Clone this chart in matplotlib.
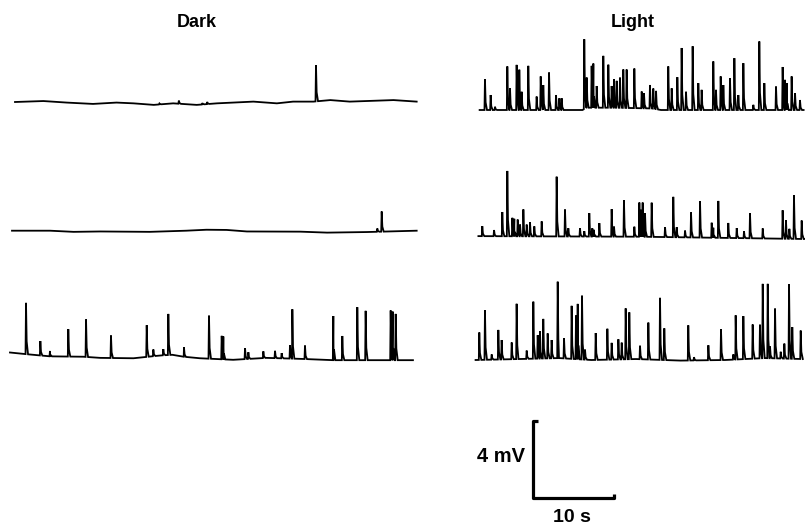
import matplotlib

matplotlib.use("Agg")
import matplotlib.pyplot as plt
import numpy as np

plt.rcParams["font.family"] = ["Liberation Sans", "DejaVu Sans"]

W_PX, H_PX = 805, 526
PX_PER_S = 8.1
PX_PER_MV = 19.2

# ---- Dark recordings (spike time [s], amplitude [mV]; baseline knots) ----
DARK1_BASE_T = [0.37, 3.87, 6.75, 10.0, 12.9, 15.0, 17.5, 19.9, 22.8, 25.3, 29.8,
                32.7, 34.7, 37.2, 39.3, 41.7, 47.1, 49.96]
DARK1_BASE_V = [0.0, 0.05, -0.03, -0.10, -0.03, -0.07, -0.15, -0.07, -0.15, -0.07, 0.02,
                -0.07, 0.02, 0.02, 0.10, 0.02, 0.10, 0.02]
DARK1_SPK_T = [18.2, 20.6, 23.5, 24.1, 37.53]
DARK1_SPK_A = [0.05, 0.16, 0.07, 0.11, 1.89]

DARK2_BASE_T = [0.0, 4.7, 7.6, 10.9, 17.0, 21.5, 24.0, 26.5, 29.0, 35.6, 38.9, 43.8, 49.96]
DARK2_BASE_V = [0.0, 0.0, -0.06, -0.04, -0.06, 0.0, 0.05, 0.04, -0.04, -0.05, -0.1, -0.07, 0.0]
DARK2_SPK_T = [45.1, 45.64]
DARK2_SPK_A = [0.17, 1.05]

DARK3_BASE_T = [-0.25, 1.6, 4.7, 8.8, 10.9, 15.0, 18.4, 19.8, 21.2, 23.2, 27.3, 31.4,
                35.6, 39.7, 49.5]
DARK3_BASE_V = [0.0, -0.08, -0.2, -0.22, -0.28, -0.3, -0.15, -0.12, -0.22, -0.3, -0.38,
                -0.28, -0.33, -0.4, -0.4]
DARK3_SPK_T = [1.73, 3.50, 4.69, 6.95, 9.14, 12.22, 16.63, 17.45, 18.68, 19.30,
               21.23, 24.32, 25.89, 26.09, 28.77, 29.18, 31.03, 32.47, 33.29, 34.32,
               34.61, 36.17, 39.67, 40.78, 42.63, 43.66, 46.75, 47.00, 47.37]
DARK3_SPK_A = [2.67, 0.75, 0.28, 1.43, 1.95, 1.17, 1.65, 0.35, 0.32, 2.14,
               0.49, 2.24, 1.22, 1.19, 0.57, 0.35, 0.35, 0.38, 0.27, 0.70,
               2.57, 0.70, 2.30, 1.26, 2.76, 2.57, 2.59, 2.53, 2.41]

# ---- Light recordings ----
LIGHT1_BASE_T = [0.2, 12.9, 13.4, 17.0, 21.5, 22.6, 40.2]
LIGHT1_BASE_V = [0.0, 0.0, 0.12, 0.12, 0.08, 0.0, 0.0]
LIGHT1_SPK_T = [0.86, 1.56, 2.10, 3.62, 3.95, 4.77, 5.10, 5.39, 6.21, 7.24,
                7.74, 8.06, 8.77, 9.63, 10.04, 10.33, 13.12, 13.42, 14.03, 14.24,
                14.65, 15.47, 16.09, 16.50, 16.79, 17.12, 17.53, 17.94, 18.35, 19.30,
                20.21, 20.49, 21.23, 21.64, 21.98, 23.49, 23.91, 24.61, 25.14, 25.68,
                26.50, 27.20, 27.61, 29.05, 29.38, 29.96, 30.29, 31.11, 31.65, 32.14,
                32.76, 33.99, 34.73, 35.35, 36.79, 37.61, 37.90, 38.11, 38.72, 39.14,
                39.75]
LIGHT1_SPK_A = [1.61, 0.78, 0.17, 2.27, 1.13, 2.35, 2.10, 0.95, 2.30, 0.70,
                1.75, 1.30, 1.95, 0.78, 0.61, 0.61, 3.63, 1.57, 2.18, 2.30,
                1.13, 2.70, 2.24, 1.13, 1.48, 1.40, 1.57, 2.00, 2.00, 2.06,
                0.87, 0.78, 1.22, 1.05, 0.95, 2.27, 1.13, 1.71, 3.23, 0.95,
                3.32, 1.40, 1.05, 2.53, 1.05, 1.75, 1.30, 1.65, 2.70, 0.78,
                2.44, 0.27, 3.57, 1.40, 1.22, 2.24, 1.57, 1.40, 1.75, 0.87,
                0.52]

LIGHT2_BASE_T = [0.05, 20.0, 40.3]
LIGHT2_BASE_V = [0.03, 0.0, -0.12]
LIGHT2_SPK_T = [0.53, 1.98, 3.00, 3.62, 4.24, 4.48, 4.90, 5.19, 5.60, 6.01,
                6.42, 6.95, 7.86, 9.71, 10.74, 11.15, 12.59, 13.12, 13.74, 14.11,
                14.32, 14.98, 16.50, 16.79, 18.02, 19.30, 19.92, 20.12, 20.33, 20.62,
                21.44, 23.09, 24.11, 24.53, 25.56, 26.30, 27.41, 28.85, 29.05, 29.67,
                30.90, 31.94, 32.84, 33.58, 35.15, 37.61, 38.02, 38.44, 39.01, 39.96]
LIGHT2_SPK_A = [0.52, 0.32, 1.26, 3.40, 0.96, 0.91, 0.87, 0.61, 1.40, 0.61,
                0.73, 0.52, 0.78, 3.11, 1.40, 0.43, 0.43, 0.28, 1.22, 0.43,
                0.35, 0.70, 1.43, 0.52, 1.89, 0.52, 1.78, 1.40, 1.78, 1.22,
                1.78, 0.52, 2.10, 0.52, 0.35, 1.30, 1.89, 0.78, 0.52, 1.92,
                0.78, 0.52, 0.35, 1.30, 0.52, 1.48, 0.96, 0.52, 2.27, 0.96]

LIGHT3_BASE_T = [-0.3, 5.0, 10.0, 14.0, 19.5, 25.0, 30.5, 35.4, 40.1]
LIGHT3_BASE_V = [0.0, 0.05, 0.1, 0.0, 0.05, -0.03, 0.0, 0.1, 0.05]
LIGHT3_SPK_T = [0.16, 0.86, 1.69, 2.51, 2.92, 4.16, 4.77, 6.01, 6.83, 7.37,
                7.65, 8.06, 8.60, 9.09, 9.84, 10.62, 11.56, 12.10, 12.31, 12.84,
                13.21, 14.53, 15.97, 16.50, 17.33, 17.74, 18.23, 18.68, 20.00, 21.03,
                22.47, 23.00, 25.96, 26.67, 28.44, 30.00, 31.52, 31.81, 32.76, 33.91,
                34.81, 35.15, 35.77, 36.05, 36.67, 37.37, 37.82, 38.40, 38.80, 39.84]
LIGHT3_SPK_A = [1.43, 2.59, 0.27, 1.54, 1.01, 0.87, 2.88, 0.43, 2.97, 1.22,
                1.43, 2.06, 1.30, 0.95, 3.98, 1.05, 2.76, 2.27, 2.88, 3.32,
                0.52, 1.40, 1.61, 0.87, 1.05, 0.87, 2.65, 2.44, 0.70, 1.92,
                3.23, 1.65, 1.83, 0.17, 0.78, 1.61, 0.27, 2.30, 2.24, 1.78,
                1.75, 3.87, 3.87, 0.61, 2.59, 0.35, 0.78, 3.87, 1.65, 1.48]

# (base_t, base_v, spike_t, spike_a, x origin px, baseline y px, t max)
TRACES = [
    (DARK1_BASE_T, DARK1_BASE_V, DARK1_SPK_T, DARK1_SPK_A, 12, 102.0, 50.5),
    (DARK2_BASE_T, DARK2_BASE_V, DARK2_SPK_T, DARK2_SPK_A, 12, 230.7, 50.5),
    (DARK3_BASE_T, DARK3_BASE_V, DARK3_SPK_T, DARK3_SPK_A, 12, 352.5, 50.5),
    (LIGHT1_BASE_T, LIGHT1_BASE_V, LIGHT1_SPK_T, LIGHT1_SPK_A, 478, 110.0, 40.6),
    (LIGHT2_BASE_T, LIGHT2_BASE_V, LIGHT2_SPK_T, LIGHT2_SPK_A, 478, 236.7, 40.6),
    (LIGHT3_BASE_T, LIGHT3_BASE_V, LIGHT3_SPK_T, LIGHT3_SPK_A, 478, 360.0, 40.6),
]

SCALE_MV = 4
SCALE_S = 10
T_MIN, V_MIN, V_MAX = -0.6, -0.7, 4.2
# spike outline: fast rise, short decay tail (offsets in s, fraction of peak)
SPIKE_SHAPE = [(-0.06, 0.0), (0.0, 1.0), (0.08, 0.25), (0.25, 0.0)]


def add_px_axes(fig, x0, yb, t_min, t_max, v_min, v_max):
    """Axes whose data origin lands on pixel (x0, yb), at the record's scale."""

    left = x0 + t_min * PX_PER_S
    width = (t_max - t_min) * PX_PER_S
    bottom = yb - v_min * PX_PER_MV
    height = (v_max - v_min) * PX_PER_MV
    ax = fig.add_axes([left / W_PX, 1 - bottom / H_PX, width / W_PX, height / H_PX])
    ax.set_xlim(t_min, t_max)
    ax.set_ylim(v_min, v_max)
    ax.set_axis_off()
    return ax


def trace_xy(base_t, base_v, spk_t, spk_a):
    base_t = np.asarray(base_t, float)
    base_v = np.asarray(base_v, float)
    spk_t = np.asarray(spk_t, float)
    spk_a = np.asarray(spk_a, float)
    ts, vs = [base_t], [base_v]
    for dt, frac in SPIKE_SHAPE:
        ts.append(spk_t + dt)
        vs.append(np.interp(spk_t + dt, base_t, base_v) + frac * spk_a)
    t = np.concatenate(ts)
    v = np.concatenate(vs)
    order = np.argsort(t, kind="stable")
    return t[order], v[order]


def main() -> None:
    fig = plt.figure(figsize=(W_PX / 100, H_PX / 100), dpi=100)

    for base_t, base_v, spk_t, spk_a, x0, yb, t_max in TRACES:
        ax = add_px_axes(fig, x0, yb, T_MIN, t_max, V_MIN, V_MAX)
        t, v = trace_xy(base_t, base_v, spk_t, spk_a)
        ax.plot(t, v, color="black", lw=1.3, solid_joinstyle="miter")

    # calibration bar
    ax_bar = add_px_axes(fig, 533.3, 497.7, -1.0, 12.0, -0.5, 4.5)
    bar_kw = dict(color="black", lw=2.3, solid_capstyle="butt", clip_on=False)
    ax_bar.plot([0.6, 0, 0, SCALE_S, SCALE_S], [SCALE_MV, SCALE_MV, 0, 0, 0.2], **bar_kw)

    text_kw = dict(fontweight="bold", color="black")
    fig.text(197 / W_PX, 1 - 27 / H_PX, "Dark", ha="center", va="baseline", fontsize=13, **text_kw)
    fig.text(633 / W_PX, 1 - 27 / H_PX, "Light", ha="center", va="baseline", fontsize=13, **text_kw)
    fig.text(525 / W_PX, 1 - 462 / H_PX, f"{SCALE_MV} mV", ha="right", va="baseline",
             fontsize=14.5, **text_kw)
    fig.text(571.5 / W_PX, 1 - 522 / H_PX, f"{SCALE_S} s", ha="center", va="baseline",
             fontsize=14, **text_kw)

    fig.savefig("out.png", dpi=100, facecolor="white")
    plt.close(fig)


if __name__ == "__main__":
    main()
